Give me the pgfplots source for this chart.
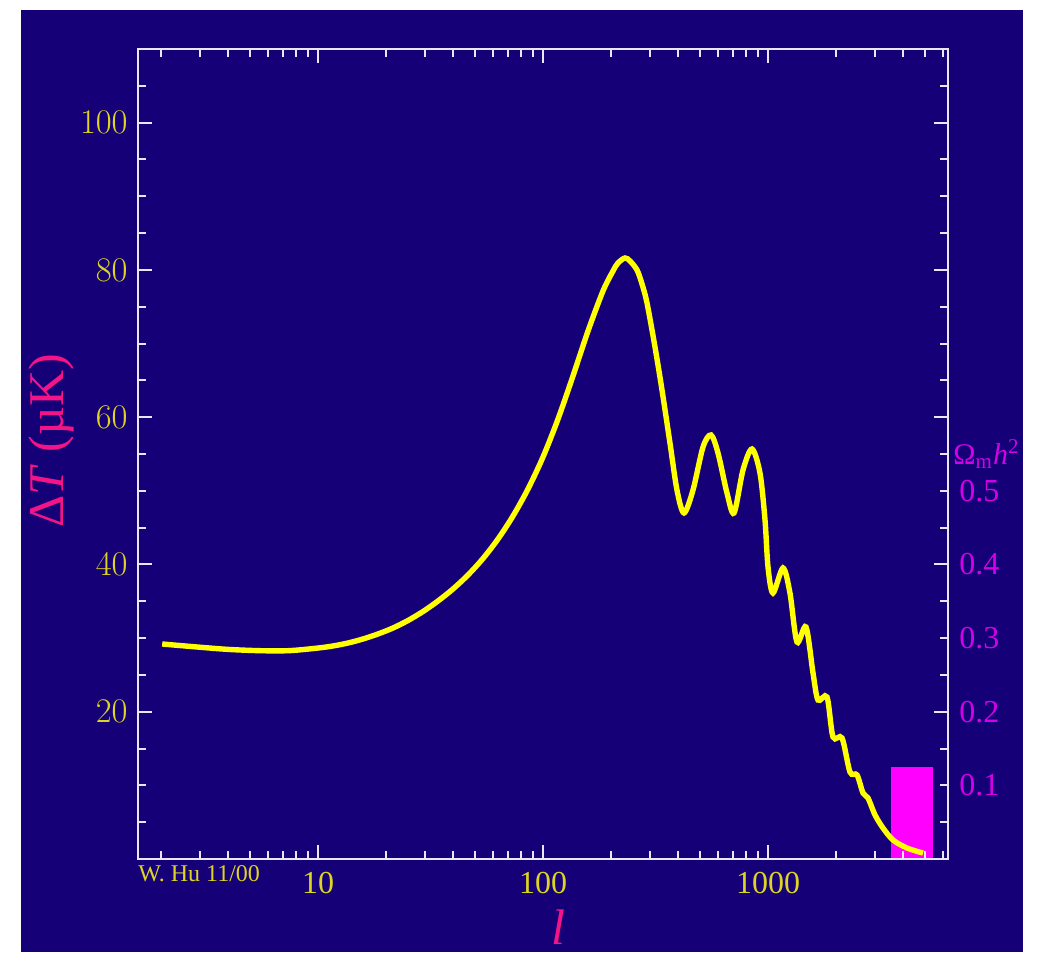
\documentclass[border=0pt]{standalone}
\usepackage{fontspec}
\setmainfont{Liberation Serif}
\usepackage{pgfplots}
\usepackage{pgfplotstable}
\pgfplotsset{compat=1.18}

\definecolor{bgblue}{RGB}{22,0,120}
\definecolor{axcol}{RGB}{232,232,245}
\definecolor{ticky}{RGB}{222,212,34}
\definecolor{curvey}{RGB}{255,255,0}
\definecolor{pinklab}{RGB}{245,20,135}
\definecolor{magtext}{RGB}{212,0,232}
\definecolor{magbar}{RGB}{255,0,255}

% angular power spectrum: l, Delta T (muK)
\pgfplotstableread{
l dT
2.03 29.20
2.90 28.79
4.06 28.45
5.70 28.28
7.51 28.30
10.00 28.65
11.66 28.93
13.59 29.33
15.85 29.88
18.48 30.56
21.54 31.37
25.12 32.39
29.29 33.61
34.15 35.04
39.81 36.67
46.42 38.57
54.12 40.81
63.10 43.46
73.56 46.58
85.77 50.25
100.0 54.59
116.6 59.75
135.9 65.59
158.5 71.70
184.8 77.14
204.7 79.85
215.4 80.94
231.4 81.62
243.6 81.21
261.7 79.99
275.4 78.09
289.9 75.51
314.6 69.53
338.0 63.69
366.7 56.49
394.0 50.11
423.2 46.99
464.2 50.11
514.2 55.95
558.1 57.58
599.5 55.14
657.3 49.70
706.3 46.99
774.4 52.83
848.9 55.68
921.2 52.42
969.8 46.04
1000 39.65
1052 36.12
1166 39.52
1252 36.12
1345 29.47
1475 31.51
1585 25.26
1668 21.59
1829 22.00
1945 16.57
2133 16.43
2314 11.81
2487 11.41
2644 8.96
2783 8.28
2990 5.98
3244 4.21
3594 2.58
4148 1.49
4887 0.81
}\spectrum

\begin{document}
\begin{tikzpicture}
% page and panel background
\fill[white] (-69pt,-46.5pt) rectangle (457.5pt,429.5pt);
\fill[bgblue] (-58.5pt,-46.5pt) rectangle (442.5pt,424.5pt);

\begin{axis}[
    at={(0,0)}, anchor=south west,
    scale only axis, width=405pt, height=405pt,
    xmode=log, log basis x=10,
    xmin=1.5849, xmax=6309.6, ymin=0, ymax=110,
    xtick={10,100,1000}, xticklabels={10,100,1000},
    minor xtick={2,3,4,5,6,7,8,9,20,30,40,50,60,70,80,90,200,300,400,500,600,700,800,900,2000,3000,4000,5000,6000},
    ytick={20,40,60,80,100},
    minor ytick={0,5,...,110},
    tick align=inside,
    major tick length=7pt, minor tick length=4pt,
    axis line style={axcol, line width=1pt},
    tick style={axcol, line width=1pt},
    ticklabel style={font=\fontsize{16}{18}\selectfont, text=ticky},
    xticklabel style={anchor=north, inner sep=0pt, yshift=-6.5pt},
    yticklabel style={anchor=east, inner sep=0pt, xshift=-5pt},
    axis on top,
]
    % Omega_m h^2 bar
    \addplot[fill=magbar, draw=none] coordinates {
        (3522,0) (3522,12.49) (5412,12.49) (5412,0)
    } -- cycle;

    % temperature anisotropy spectrum
    \addplot[curvey, line width=2.7pt, smooth, tension=0.5] table[x=l, y=dT] {\spectrum};
\end{axis}

% axis titles and annotations
\node[pinklab, rotate=90, font=\fontsize{25}{30}\selectfont] at (-43.25pt,209pt) {Δ\textit{T} (µK)};
\node[pinklab, inner sep=0pt, font=\fontsize{25}{30}\selectfont\itshape] at (210pt,-34pt) {l};
\node[ticky, anchor=west, inner sep=0pt, font=\fontsize{12}{14}\selectfont] at (0pt,-7.5pt) {W. Hu 11/00};

% right-hand Omega_m h^2 scale
\node[magtext, anchor=west, inner sep=0pt, font=\fontsize{15}{17}\selectfont] at (407.5pt,202.5pt) {Ω\textsubscript{m}\textit{h}\textsuperscript{2}};
\foreach \v/\yy in {0.1/36.82, 0.2/73.64, 0.3/110.45, 0.4/147.27, 0.5/184.09}
    \node[magtext, anchor=west, inner sep=0pt, font=\fontsize{16}{18}\selectfont] at (410.5pt,\yy pt) {\v};
\end{tikzpicture}
\end{document}
